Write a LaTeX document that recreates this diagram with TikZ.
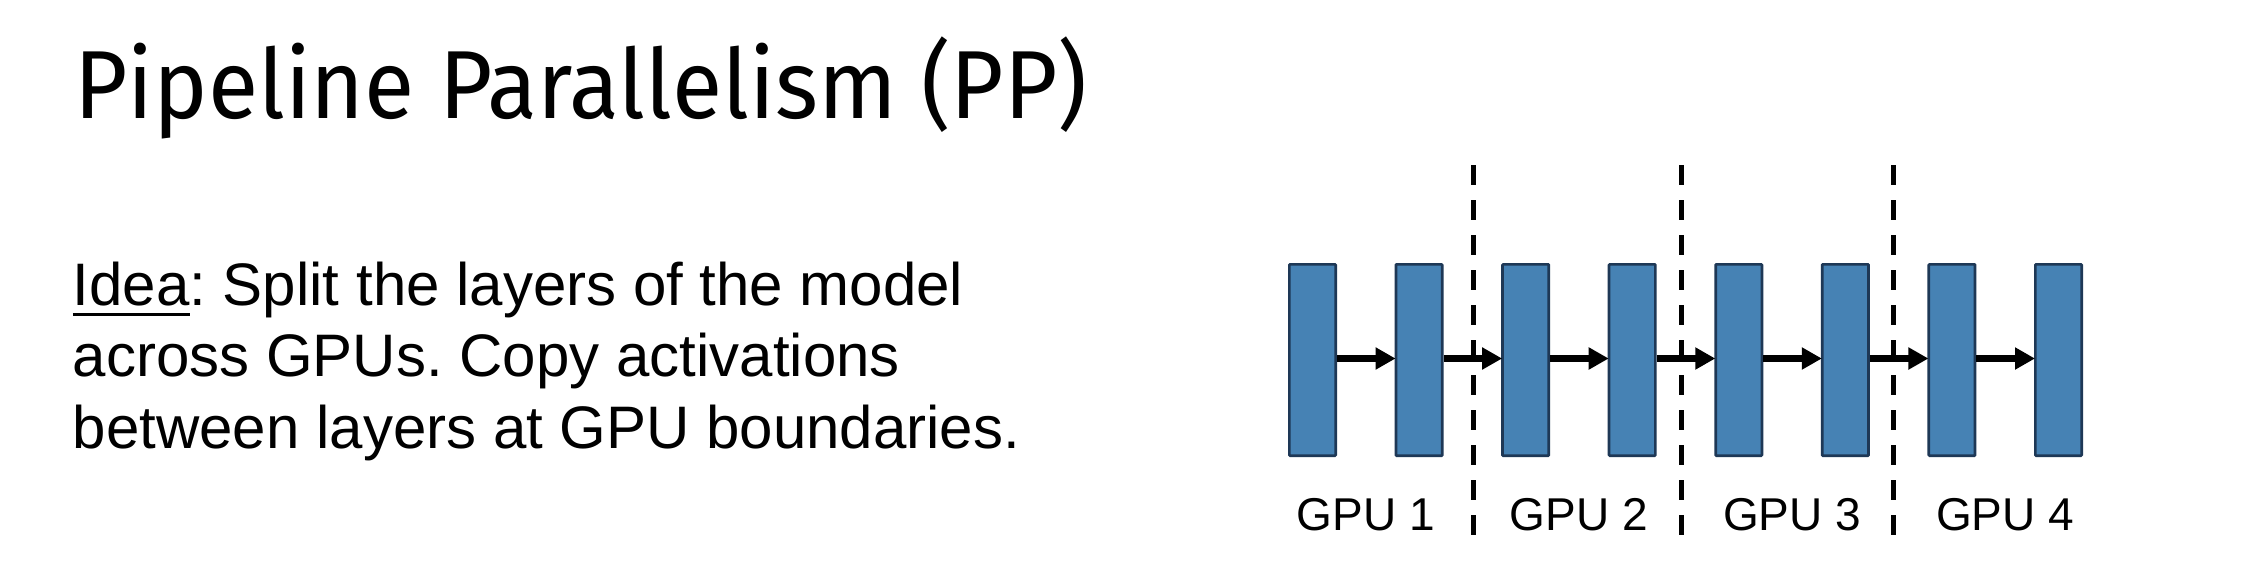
\documentclass[tikz,border=0pt]{standalone}
\usepackage{fontspec}
\setmainfont{Liberation Sans}
\newfontfamily\titlefont[FakeStretch=0.95]{Fira Sans}
\usetikzlibrary{arrows.meta,calc}
\definecolor{layerfill}{HTML}{4682B4}
\definecolor{layerdraw}{HTML}{1E3856}
\newcommand\ulword[1]{\setbox0\hbox{#1}\rlap{\rule[-10.5pt]{\wd0}{3pt}}\box0}
\frenchspacing
\tikzset{
  layer/.style={draw=layerdraw, fill=layerfill, line width=2.7pt, minimum width=46.3pt, minimum height=191.3pt, inner sep=0pt, rounded corners=0.8pt},
  flow/.style={line width=7pt, -{Triangle[length=20pt,width=21pt]}, shorten >=-1pt},
  boundary/.style={line width=5pt, dash pattern=on 20pt off 15pt},
  gpulabel/.style={anchor=base, inner sep=0pt, font=\fontsize{46}{56}\selectfont},
}
\begin{document}
\begin{tikzpicture}[x=1pt,y=-1pt]
\useasboundingbox[fill=white] (0,0) rectangle (2264,570);
\node[anchor=base west, inner sep=0pt, font=\titlefont\fontsize{96.7}{110}\selectfont] (title) at (74,118.3) {Pipeline Parallelism (PP)};
\node[anchor=base west, inner sep=0pt, align=left, font=\fontsize{60}{71.5}\selectfont] (idea) at (72.7,448) {\ulword{Idea}: Split the layers of the model\\across GPUs. Copy activations\\between layers at GPU boundaries.};
% dashed GPU boundaries
\coordinate (b1t) at (1473,165); \coordinate (b1b) at (1473,535);
\coordinate (b2t) at (1681,165); \coordinate (b2b) at (1681,535);
\coordinate (b3t) at (1893,165); \coordinate (b3b) at (1893,535);
\draw[boundary] (b1t) -- (b1b);
\draw[boundary] (b2t) -- (b2b);
\draw[boundary] (b3t) -- (b3b);
% layers
\foreach \i in {1,...,8} {
  \node[layer] (L\i) at ({1312.5+106.57*(\i-1)},360) {};
}
\foreach \i [evaluate=\i as \j using int(\i+1)] in {1,...,7} {
  \draw[flow] ([yshift=1.5pt]L\i.east) -- ([yshift=1.5pt]L\j.west);
}
\coordinate (labline) at (0,530);
\coordinate (m1) at ($(L1)!0.5!(L2)$);
\coordinate (m2) at ($(L3)!0.5!(L4)$);
\coordinate (m3) at ($(L5)!0.5!(L6)$);
\coordinate (m4) at ($(L7)!0.5!(L8)$);
\node[gpulabel] (g1) at (m1 |- labline) {GPU 1};
\node[gpulabel] (g2) at (m2 |- labline) {GPU 2};
\node[gpulabel] (g3) at (m3 |- labline) {GPU 3};
\node[gpulabel] (g4) at (m4 |- labline) {GPU 4};
\end{tikzpicture}
\end{document}
